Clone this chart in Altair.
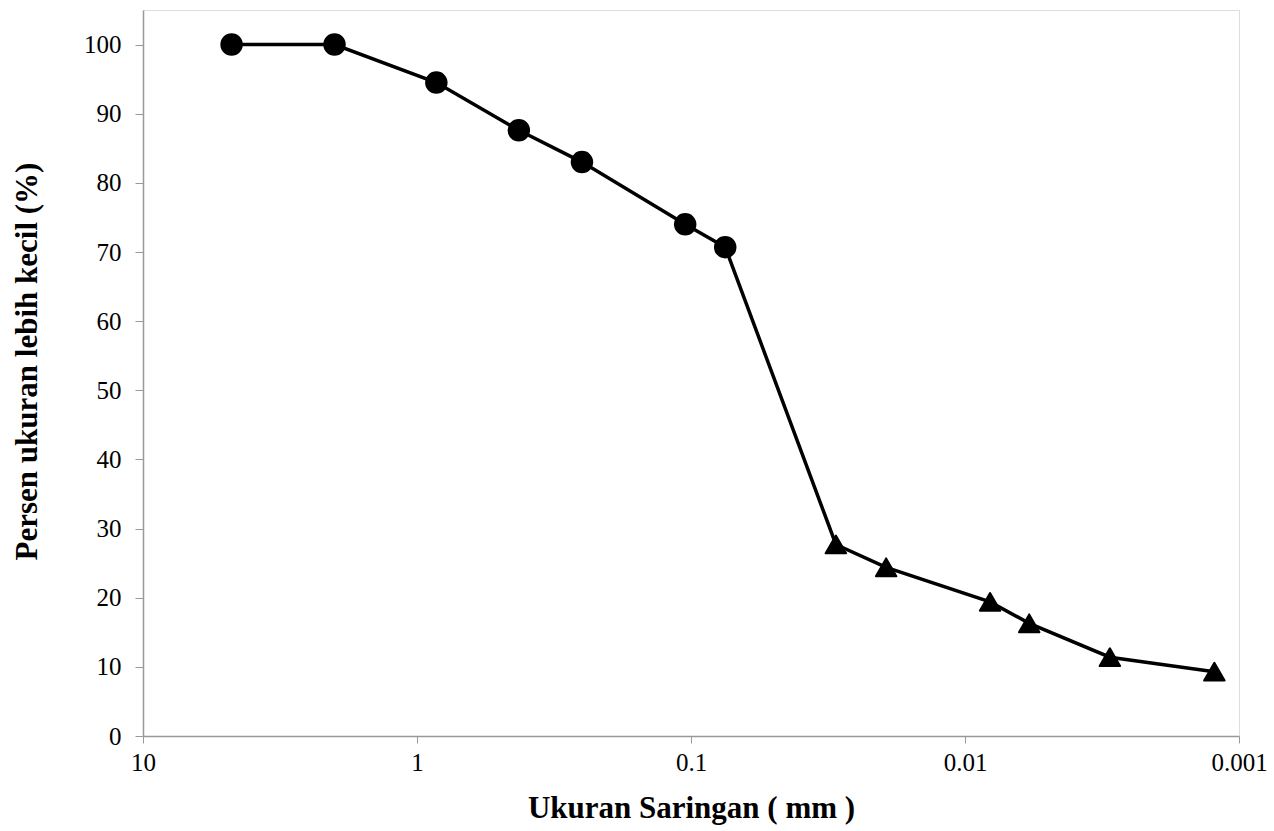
import altair as alt
import pandas as pd

# Sieve analysis (circles)
sieve_size = [4.75, 2.0, 0.85, 0.425, 0.25, 0.105, 0.075]
sieve_pct = [100.0, 100.0, 94.5, 87.6, 83.0, 74.0, 70.7]
# Hydrometer analysis (triangles)
hydro_size = [0.0296, 0.0194, 0.0081, 0.00583, 0.00296, 0.00123]
hydro_pct = [27.7, 24.4, 19.4, 16.3, 11.4, 9.3]

x_ticks = [10, 1, 0.1, 0.01, 0.001]
y_ticks = [0, 10, 20, 30, 40, 50, 60, 70, 80, 90, 100]

df = pd.DataFrame({
    "size": sieve_size + hydro_size,
    "pct": sieve_pct + hydro_pct,
    "test": ["Saringan"] * len(sieve_size) + ["Hidrometer"] * len(hydro_size),
})
df["order"] = range(len(df))

FONT = "Liberation Serif"
AX = "#999999"

x = alt.X(
    "size:Q",
    scale=alt.Scale(type="log", domain=[0.001, 10], reverse=True, nice=False),
    axis=alt.Axis(
        values=x_ticks, format="~g", grid=False, labelFlush=False,
        domainColor=AX, tickColor=AX, tickSize=7, domainWidth=1.5,
        labelFont=FONT, labelFontSize=25, labelColor="black", labelPadding=7,
        title="Ukuran Saringan ( mm )", titleFont=FONT, titleFontSize=31,
        titleFontWeight="bold", titleColor="black", titleX=548, titleY=72,
        titleBaseline="middle", titleAlign="center",
    ),
)
y = alt.Y(
    "pct:Q",
    scale=alt.Scale(domain=[0, 105], nice=False),
    axis=alt.Axis(
        values=y_ticks, grid=False,
        domainColor=AX, tickColor=AX, tickSize=8, domainWidth=1.5,
        labelFont=FONT, labelFontSize=25, labelColor="black", labelPadding=14,
        title="Persen ukuran lebih kecil (%)", titleFont=FONT, titleFontSize=31,
        titleFontWeight="bold", titleColor="black", titleX=-116, titleY=351,
        titleAngle=-90, titleBaseline="middle", titleAlign="center",
    ),
)

line = alt.Chart(df).mark_line(color="black", strokeWidth=3.5).encode(
    x=x, y=y, order="order:Q"
)
points = alt.Chart(df).mark_point(
    filled=True, color="black", fill="black", stroke="black", strokeWidth=2,
    strokeJoin="round", opacity=1, size=420
).encode(
    x=x, y=y,
    shape=alt.Shape("test:N",
                    scale=alt.Scale(domain=["Saringan", "Hidrometer"],
                                    range=["circle", "triangle-up"]),
                    legend=None),
)

chart = (line + points).properties(
    width=1096, height=726,
    autosize=alt.AutoSizeParams(type="none"),
    padding={"left": 143, "top": 10, "right": 35, "bottom": 95},
).configure_view(stroke=None).configure(background="white")

chart.save("out.html", embed_options={"renderer": "svg", "actions": False})
